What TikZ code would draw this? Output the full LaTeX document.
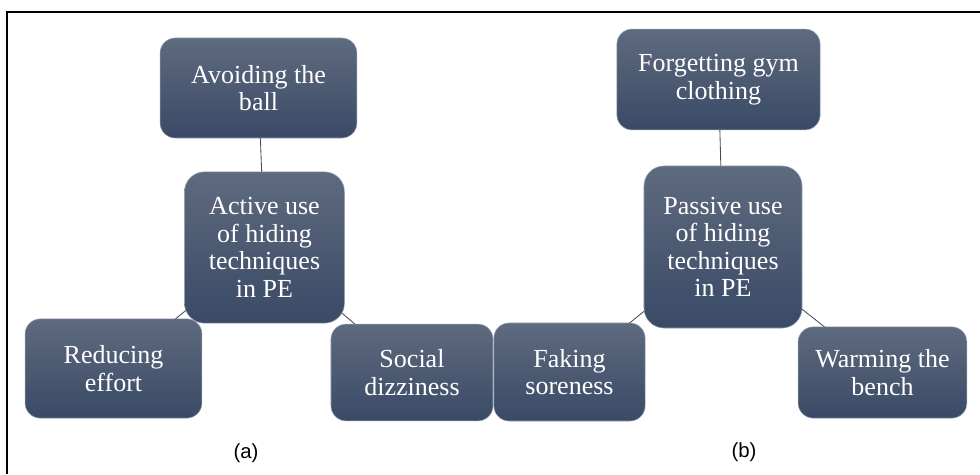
\documentclass[tikz,border=0pt]{standalone}
\usepackage{fontspec}
\setmainfont{Liberation Serif}
\newfontfamily\capfont{Liberation Sans}
\usepackage{tikz}
\usetikzlibrary{backgrounds}
\definecolor{slatetop}{RGB}{94,106,126}
\definecolor{slatebot}{RGB}{58,74,102}
\definecolor{slateedge}{RGB}{150,160,176}
\definecolor{linkgray}{RGB}{70,76,90}

\begin{document}
\begin{tikzpicture}[
    x=0.025cm, y=-0.025cm,
    leaf/.style={draw=slateedge, line width=0.4pt, top color=slatetop, bottom color=slatebot,
                 rounded corners=0.38cm, text=white, align=center, inner sep=0pt,
                 font=\fontsize{18.5}{19.5}\selectfont},
    hub/.style={leaf, rounded corners=0.5cm},
    link/.style={draw=linkgray, line width=0.6pt},
    sublabel/.style={font=\capfont\fontsize{14.5}{16}\selectfont},
    frame/.style={draw=black, line width=1.4pt}
  ]
    \useasboundingbox (0,0) rectangle (980,474);
    \draw[frame] (980,12) -- (7,12) -- (7,474);

    % (a) active
    \node[hub, minimum width=4cm, minimum height=3.78cm] (active) at (264.5,247.5)
      {Active use\\of hiding\\techniques\\in PE};
    \node[leaf, minimum width=4.92cm, minimum height=2.5cm] (avoid) at (258.5,88) {Avoiding the\\ball};
    \node[leaf, minimum width=4.42cm, minimum height=2.48cm] (reduce) at (113.5,368.5) {Reducing\\effort};
    \node[leaf, minimum width=4.05cm, minimum height=2.42cm] (social) at (412,372.5) {Social\\dizziness};

    % (b) passive
    \node[hub, minimum width=3.95cm, minimum height=4.05cm] (passive) at (723,247) 
      {Passive use\\of hiding\\techniques\\in PE};
    \node[leaf, minimum width=5.08cm, minimum height=2.52cm] (forget) at (718.5,79.5) {Forgetting gym\\clothing};
    \node[leaf, minimum width=3.78cm, minimum height=2.45cm] (faking) at (569.5,372) {Faking\\soreness};
    \node[leaf, minimum width=4.22cm, minimum height=2.28cm] (warm) at (882.5,372.5) {Warming the\\bench};

    \begin{pgfonlayer}{background}
      \foreach \a in {avoid,reduce,social} \draw[link] (active.center) -- (\a.center);
      \foreach \a in {forget,faking,warm} \draw[link] (passive.center) -- (\a.center);
    \end{pgfonlayer}

    \node[sublabel] (capa) at (246,453) {(a)};
    \node[sublabel] (capb) at (744,452) {(b)};
  \end{tikzpicture}
\end{document}
